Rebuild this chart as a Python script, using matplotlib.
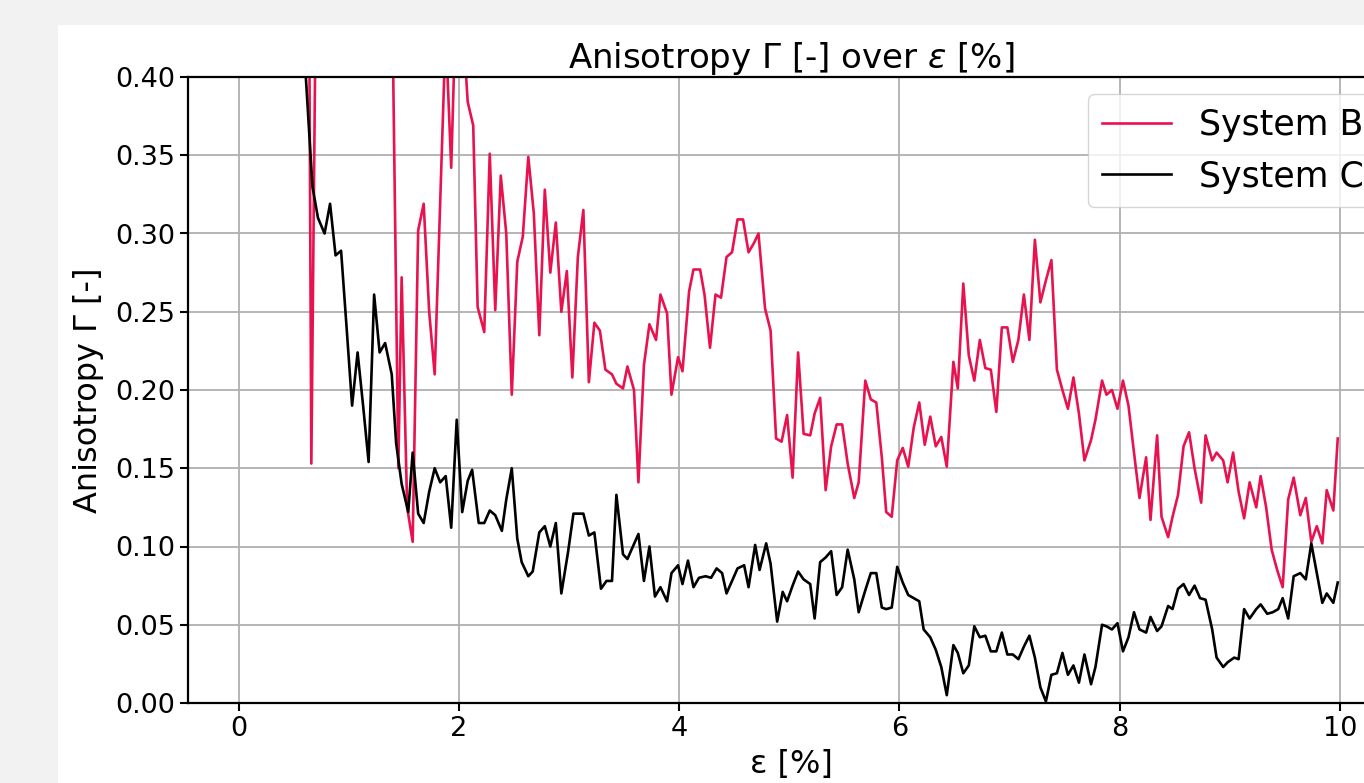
import numpy as np
import matplotlib
matplotlib.use("Agg")
import matplotlib.pyplot as plt
from matplotlib.patches import Rectangle

# strain eps [%] and anisotropy values
x_b = [0.58, 0.64, 0.66, 0.70, 0.74,
       1.36, 1.40, 1.45, 1.48, 1.53, 1.58, 1.63, 1.68, 1.73, 1.78, 1.83, 1.88, 1.93, 1.97,
       2.03, 2.08, 2.13, 2.17, 2.23, 2.28, 2.33, 2.38, 2.43, 2.48, 2.53, 2.58, 2.63, 2.68,
       2.73, 2.78, 2.83, 2.88, 2.93, 2.98, 3.03, 3.08, 3.13, 3.18, 3.23, 3.28, 3.33, 3.39,
       3.43, 3.49, 3.53, 3.59, 3.63, 3.68, 3.73, 3.79, 3.83, 3.89, 3.93, 3.99, 4.03, 4.09,
       4.13, 4.19, 4.23, 4.28, 4.33, 4.38, 4.43, 4.48, 4.53, 4.58, 4.63, 4.68, 4.72, 4.78,
       4.83, 4.88, 4.93, 4.98, 5.03, 5.08, 5.13, 5.19, 5.23, 5.28, 5.33, 5.38, 5.43, 5.48,
       5.53, 5.59, 5.63, 5.69, 5.74, 5.79, 5.84, 5.88, 5.93, 5.98, 6.03, 6.08, 6.13, 6.18,
       6.23, 6.28, 6.33, 6.38, 6.43, 6.49, 6.53, 6.58, 6.63, 6.68, 6.73, 6.78, 6.83, 6.88,
       6.93, 6.98, 7.03, 7.08, 7.13, 7.18, 7.23, 7.28, 7.33, 7.38, 7.43, 7.48, 7.53, 7.58,
       7.63, 7.68, 7.74, 7.78, 7.84, 7.88, 7.93, 7.98, 8.03, 8.08, 8.13, 8.18, 8.24, 8.28,
       8.34, 8.38, 8.44, 8.48, 8.53, 8.58, 8.63, 8.68, 8.74, 8.78, 8.84, 8.88, 8.94, 8.98,
       9.03, 9.08, 9.13, 9.18, 9.24, 9.28, 9.33, 9.38, 9.43, 9.48, 9.53, 9.58, 9.64, 9.69,
       9.74, 9.79, 9.84, 9.88, 9.94, 9.98]
y_b = [0.55, 0.45, 0.153, 0.45, 0.55,
       0.55, 0.42, 0.15, 0.272, 0.125, 0.103, 0.302, 0.319, 0.25, 0.21, 0.32, 0.43, 0.342, 0.44,
       0.44, 0.384, 0.369, 0.253, 0.237, 0.351, 0.251, 0.337, 0.300, 0.197, 0.282, 0.298, 0.349, 0.313,
       0.235, 0.328, 0.275, 0.307, 0.250, 0.276, 0.208, 0.285, 0.315, 0.205, 0.243, 0.238, 0.213, 0.210,
       0.204, 0.201, 0.215, 0.200, 0.141, 0.216, 0.242, 0.232, 0.261, 0.249, 0.197, 0.221, 0.212, 0.263,
       0.277, 0.277, 0.261, 0.227, 0.261, 0.259, 0.285, 0.288, 0.309, 0.309, 0.288, 0.294, 0.300, 0.252,
       0.238, 0.169, 0.167, 0.184, 0.144, 0.224, 0.172, 0.171, 0.185, 0.195, 0.136, 0.164, 0.178, 0.178,
       0.153, 0.131, 0.141, 0.206, 0.194, 0.192, 0.157, 0.122, 0.119, 0.155, 0.163, 0.151, 0.176, 0.192,
       0.165, 0.183, 0.164, 0.170, 0.151, 0.218, 0.201, 0.268, 0.222, 0.206, 0.232, 0.214, 0.213, 0.186,
       0.240, 0.240, 0.218, 0.232, 0.261, 0.232, 0.296, 0.256, 0.270, 0.283, 0.213, 0.200, 0.188, 0.208,
       0.185, 0.155, 0.168, 0.181, 0.206, 0.197, 0.200, 0.188, 0.206, 0.190, 0.160, 0.131, 0.157, 0.117,
       0.171, 0.119, 0.106, 0.119, 0.133, 0.164, 0.173, 0.150, 0.128, 0.171, 0.155, 0.160, 0.155, 0.141,
       0.160, 0.135, 0.118, 0.141, 0.125, 0.145, 0.125, 0.098, 0.085, 0.074, 0.130, 0.144, 0.120, 0.131,
       0.103, 0.113, 0.102, 0.136, 0.123, 0.169]

x_c = [0.58, 0.61, 0.67, 0.72, 0.78, 0.83, 0.88, 0.93, 0.98, 1.03, 1.08, 1.13, 1.18, 1.23, 1.28,
       1.33, 1.39, 1.43, 1.48, 1.54, 1.58, 1.63, 1.68, 1.73, 1.78, 1.83, 1.88, 1.93, 1.98,
       2.03, 2.08, 2.12, 2.18, 2.23, 2.28, 2.33, 2.39, 2.43, 2.48, 2.53, 2.57, 2.63, 2.67,
       2.73, 2.78, 2.83, 2.88, 2.93, 2.99, 3.04, 3.13, 3.18, 3.23, 3.29, 3.34, 3.39, 3.43,
       3.49, 3.53, 3.58, 3.63, 3.68, 3.73, 3.78, 3.83, 3.89, 3.93, 3.99, 4.03, 4.08, 4.13,
       4.18, 4.24, 4.29, 4.34, 4.39, 4.43, 4.48, 4.53, 4.59, 4.63, 4.69, 4.73, 4.79, 4.83,
       4.89, 4.94, 4.98, 5.03, 5.08, 5.13, 5.19, 5.23, 5.28, 5.33, 5.38, 5.43, 5.48, 5.53,
       5.59, 5.63, 5.69, 5.74, 5.79, 5.84, 5.88, 5.93, 5.98, 6.03, 6.08, 6.13, 6.18, 6.22,
       6.28, 6.33, 6.38, 6.43, 6.49, 6.53, 6.58, 6.63, 6.68, 6.73, 6.78, 6.83, 6.88, 6.93,
       6.98, 7.03, 7.08, 7.13, 7.18, 7.23, 7.28, 7.33, 7.38, 7.43, 7.48, 7.53, 7.58, 7.63,
       7.68, 7.74, 7.78, 7.84, 7.88, 7.93, 7.98, 8.03, 8.08, 8.13, 8.18, 8.24, 8.28, 8.34,
       8.38, 8.44, 8.48, 8.53, 8.58, 8.63, 8.68, 8.73, 8.78, 8.84, 8.88, 8.94, 8.98, 9.04,
       9.08, 9.13, 9.18, 9.24, 9.28, 9.34, 9.39, 9.44, 9.48, 9.53, 9.58, 9.64, 9.69, 9.74,
       9.79, 9.84, 9.88, 9.94, 9.98]
y_c = [0.47, 0.40, 0.330, 0.310, 0.300, 0.319, 0.286, 0.289, 0.240, 0.190, 0.224, 0.190, 0.154, 0.261, 0.224,
       0.230, 0.210, 0.166, 0.140, 0.122, 0.160, 0.121, 0.115, 0.135, 0.150, 0.141, 0.145, 0.112, 0.181,
       0.122, 0.142, 0.149, 0.115, 0.115, 0.123, 0.120, 0.110, 0.130, 0.150, 0.105, 0.090, 0.081, 0.084,
       0.109, 0.113, 0.100, 0.115, 0.070, 0.096, 0.121, 0.121, 0.107, 0.109, 0.073, 0.078, 0.078, 0.133,
       0.095, 0.092, 0.100, 0.108, 0.078, 0.100, 0.068, 0.074, 0.065, 0.083, 0.088, 0.076, 0.091, 0.074,
       0.080, 0.081, 0.080, 0.086, 0.083, 0.070, 0.078, 0.086, 0.088, 0.074, 0.101, 0.085, 0.102, 0.089,
       0.052, 0.071, 0.065, 0.075, 0.084, 0.079, 0.076, 0.054, 0.090, 0.093, 0.097, 0.069, 0.074, 0.098,
       0.079, 0.058, 0.072, 0.083, 0.083, 0.061, 0.060, 0.061, 0.087, 0.077, 0.069, 0.067, 0.065, 0.047,
       0.042, 0.034, 0.023, 0.005, 0.037, 0.032, 0.019, 0.024, 0.049, 0.042, 0.043, 0.033, 0.033, 0.045,
       0.031, 0.031, 0.028, 0.036, 0.043, 0.029, 0.010, 0.001, 0.018, 0.019, 0.032, 0.018, 0.024, 0.013,
       0.031, 0.012, 0.023, 0.050, 0.049, 0.047, 0.051, 0.033, 0.042, 0.058, 0.047, 0.045, 0.055, 0.046,
       0.049, 0.062, 0.060, 0.073, 0.076, 0.069, 0.075, 0.067, 0.066, 0.047, 0.029, 0.023, 0.026, 0.029,
       0.028, 0.060, 0.054, 0.060, 0.063, 0.057, 0.058, 0.060, 0.067, 0.054, 0.081, 0.083, 0.079, 0.102,
       0.083, 0.064, 0.070, 0.064, 0.077]

xticks = [0, 2, 4, 6, 8, 10]
yticks = [0.00, 0.05, 0.10, 0.15, 0.20, 0.25, 0.30, 0.35, 0.40]

W, H = 1364, 783
fig = plt.figure(figsize=(W / 100, H / 100), dpi=100, facecolor='#f2f2f2')
# white canvas of the embedded figure
fig.patches.append(Rectangle((58 / W, 0), 1 - 58 / W, 1 - 25 / H,
                             transform=fig.transFigure, facecolor='white',
                             edgecolor='none', zorder=-10))

# axes run past the right edge (reference is cropped)
ax = fig.add_axes([188 / W, 80 / H, (1395 - 188) / W, (703 - 77) / H])
ax.set_zorder(5)

ax.plot(x_b, y_b, color='#e8124f', lw=1.9, label='System B')
ax.plot(x_c, y_c, color='black', lw=1.9, label='System C')

ax.set_xlim(-0.46, 10.5)
ax.set_ylim(0, 0.40)
ax.set_xticks(xticks)
ax.set_yticks(yticks)
ax.yaxis.set_major_formatter(plt.FormatStrFormatter('%.2f'))
ax.grid(True, color='#b0b0b0', lw=1.3)
ax.set_axisbelow(True)
ax.tick_params(labelsize=19.5, length=6, width=1.5)
for s in ax.spines.values():
    s.set_linewidth(1.6)

ax.set_title('Anisotropy Γ [-] over $\\varepsilon$ [%]', fontsize=24.5, pad=5)
ax.set_xlabel('ε [%]', fontsize=23, labelpad=5)
ax.set_ylabel('Anisotropy Γ [-]', fontsize=23, labelpad=8)
ax.legend(loc='upper right', fontsize=25, framealpha=0.8)

fig.savefig('out.png', dpi=100, facecolor=fig.get_facecolor())
